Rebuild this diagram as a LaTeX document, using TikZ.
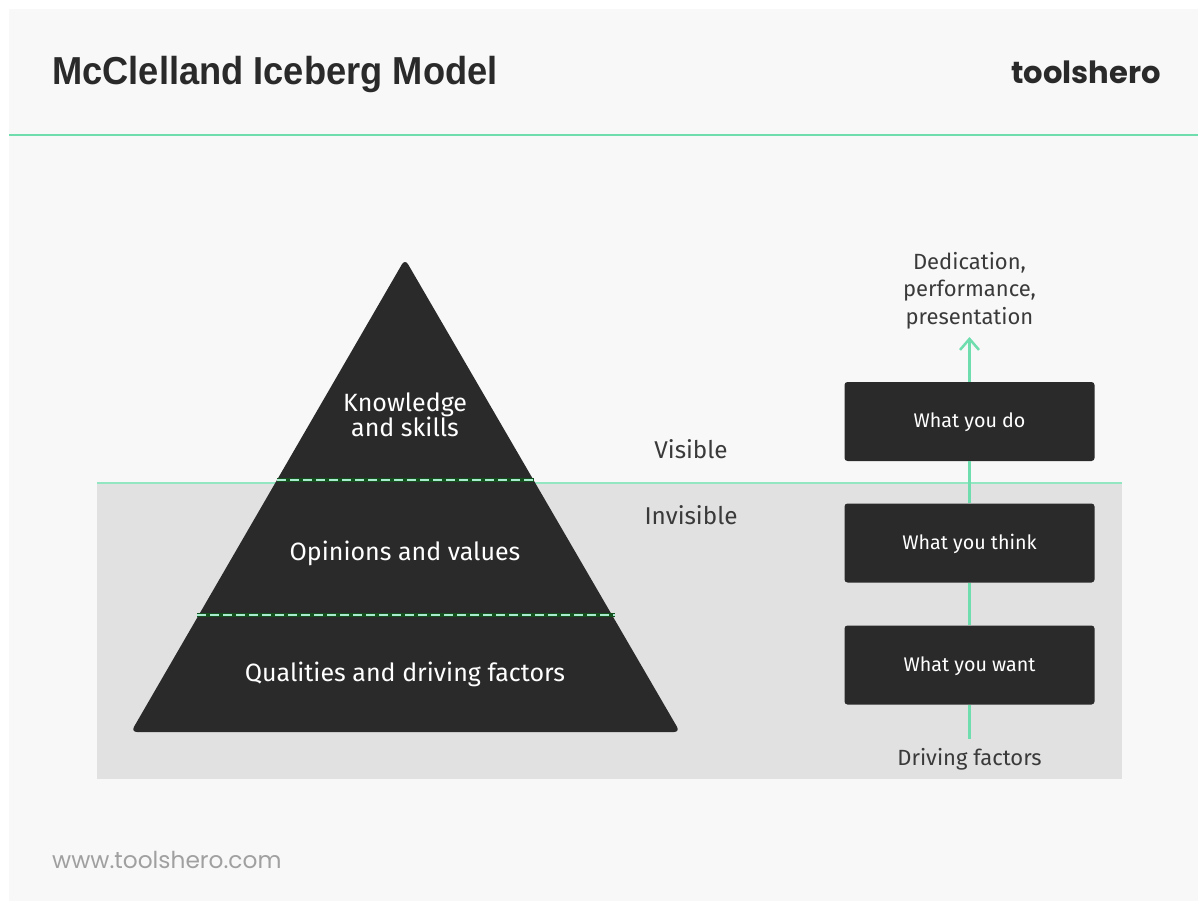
\documentclass[tikz,border=0pt]{standalone}
\usepackage{fontspec}
\setmainfont{Liberation Sans}
\newfontfamily\titlefont[FakeStretch=0.93]{Liberation Sans}
\newfontfamily\lblfont{Fira Sans}
\newfontfamily\brandfont{Poppins}
\usetikzlibrary{arrows.meta}
\definecolor{ink}{HTML}{2A2A2A}
\definecolor{paper}{HTML}{F8F8F8}
\definecolor{water}{HTML}{E1E1E1}
\definecolor{mint}{HTML}{6FDDAE}
\definecolor{halo}{HTML}{14501E}
\definecolor{lbl}{HTML}{3A3A3A}
\definecolor{web}{HTML}{A0A0A0}
\tikzset{
  x=1pt,y=-1pt,
  box/.style={fill=ink,rounded corners=3pt,minimum width=250pt,minimum height=79pt,inner sep=0pt,text=white,font=\lblfont\fontsize{19.7}{21}\selectfont},
  lab/.style={text=lbl,align=center,inner sep=0pt,font=\lblfont\fontsize{22}{27.5}\selectfont},
  side/.style={text=lbl,inner sep=0pt,font=\lblfont\fontsize{24.3}{27}\selectfont},
  onink/.style={text=white,align=center,inner sep=0pt,font=\lblfont\fontsize{25}{25}\selectfont},
  green/.style={draw=mint,line width=2.5pt},
  dashline/.style={draw=mint!60!white,line width=2pt,dash pattern=on 9pt off 4pt},
  dashbase/.style={draw=halo,line width=3.5pt}
}
\begin{document}
\begin{tikzpicture}
\useasboundingbox (0,0) rectangle (1198,901);
\fill[white] (0,0) rectangle (1198,901);
\fill[paper] (9,9) rectangle (1198,901);
\fill[water] (97,483) rectangle (1122,779);
\draw[draw=mint,line width=2.5pt] (9,135) -- (1198,135);
\draw[draw=mint!75!white,line width=2pt] (97,483) -- (1122,483);
% pyramid
\fill[ink,rounded corners=6pt] (405,259) -- (680,732) -- (131,732) -- cycle;
\coordinate (d1l) at (277,480); \coordinate (d1r) at (534,480);
\coordinate (d2l) at (197,615); \coordinate (d2r) at (615,615);
\draw[dashbase] (d1l) -- (d1r);
\draw[dashbase] (d2l) -- (d2r);
\draw[dashline] (d1l) -- (d1r);
\draw[dashline] (d2l) -- (d2r);
\node[onink] (k) at (405,415) {Knowledge\\and skills};
\node[onink] (o) at (405,553) {Opinions and values};
\node[onink] (q) at (405,674) {Qualities and driving factors};
\node[side] (vis) at (691,449) {Visible};
\node[side] (inv) at (691,515) {Invisible};
% boxes
\node[box] (want) at (969.5,665) {};
\node[box] (think) at (969.5,543) {};
\node[box] (do) at (969.5,421.5) {};
\node[text=white,inner sep=0pt,font=\lblfont\fontsize{19.7}{21}\selectfont] (wantt) at (969.5,666) {What you want};
\node[text=white,inner sep=0pt,font=\lblfont\fontsize{19.7}{21}\selectfont] (thinkt) at (969.5,544) {What you think};
\node[text=white,inner sep=0pt,font=\lblfont\fontsize{19.7}{21}\selectfont] (dot) at (969.5,422.5) {What you do};
\node[lab] (ded) at (969.5,290.5) {Dedication,\\performance,\\presentation};
\node[lab] (drv) at (969.5,759) {Driving factors};
\coordinate (top) at (969.5,337);
\coordinate (bot) at (969.5,739);
\draw[green] (bot) -- (want.south);
\draw[green] (want.north) -- (think.south);
\draw[green] (think.north) -- (do.south);
\draw[green,-{Straight Barb[length=11pt,width=19pt]}] (do.north) -- (top);
% header
\node[anchor=west,inner sep=0pt,text=ink,font=\titlefont\fontsize{39}{40}\selectfont\bfseries] (title) at (52,75) {McClelland Iceberg Model};
\node[anchor=east,inner sep=0pt,text=ink,font=\brandfont\fontsize{30.6}{34}\selectfont\bfseries] (brand) at (1161,72) {toolshero};
\node[anchor=west,inner sep=0pt,text=web,font=\brandfont\fontsize{23.3}{24}\selectfont] (url) at (52,860) {www.toolshero.com};
\end{tikzpicture}
\end{document}
